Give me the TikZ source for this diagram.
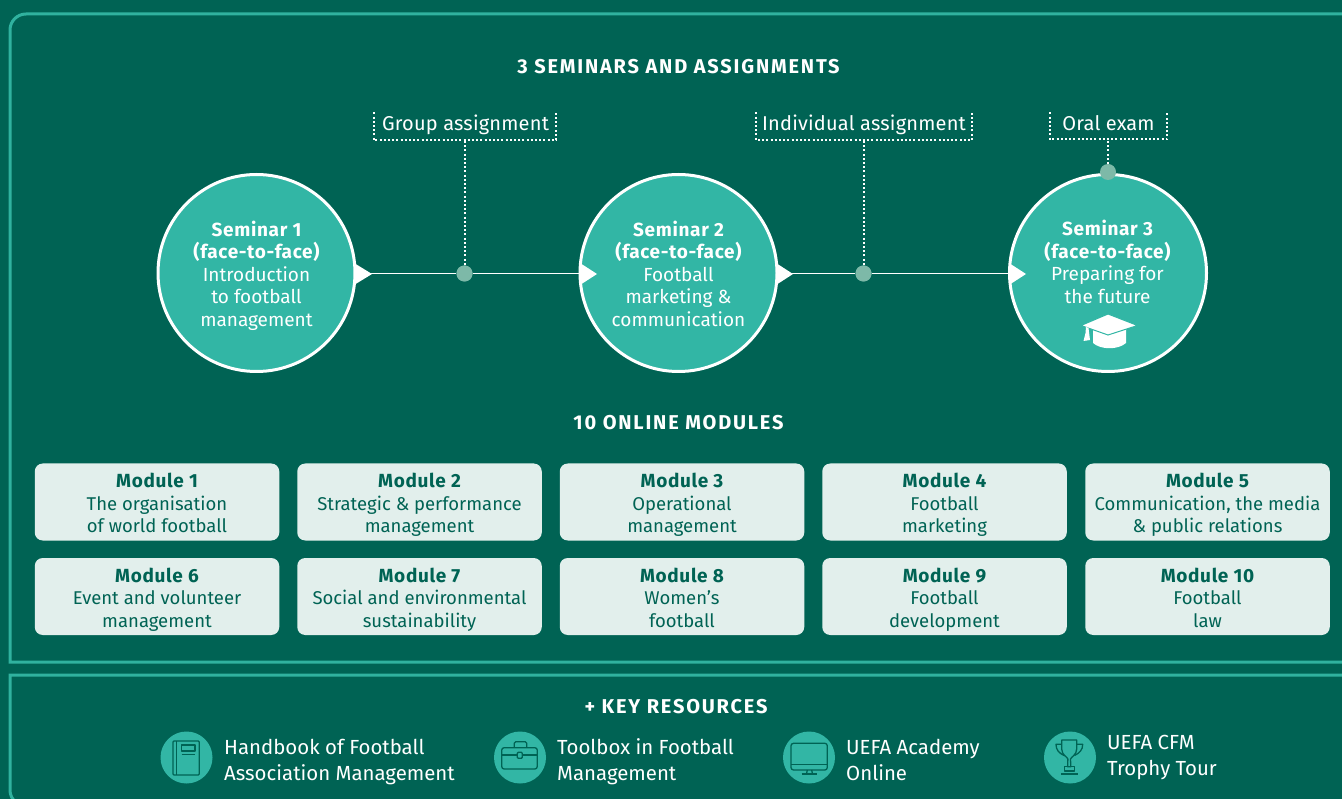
\documentclass[tikz,border=0pt]{standalone}
\usepackage{fontspec}
\setmainfont{Fira Sans}
\usetikzlibrary{calc}
\definecolor{bgc}{HTML}{006354}
\definecolor{teal}{HTML}{32B6A5}
\definecolor{pale}{HTML}{E2EFEC}
\definecolor{dotc}{HTML}{7DB9A8}
\definecolor{edge}{HTML}{30B29F}
\newcommand{\bodyf}{\fontsize{18.5}{22.5}\selectfont}
\newcommand{\semf}{\fontsize{19}{22.5}\selectfont}
\newcommand{\boldf}{\fontsize{19}{22.5}\selectfont\bfseries\addfontfeature{LetterSpace=3.5}}
\newcommand{\headf}{\fontsize{20}{22.5}\selectfont\bfseries\addfontfeature{LetterSpace=9}}
\newcommand{\modl}[3]{{\boldf\rule{0pt}{23pt}#1}\\#2\\\strut #3}
\tikzset{
  x=1pt,y=-1pt,
  panel/.style={draw=edge,line width=3pt},
  seminar/.style={circle,draw=white,line width=3pt,fill=teal,minimum size=197pt,inner sep=0pt},
  semtext/.style={text=white,align=center,font=\semf,inner sep=0pt},
  modbox/.style={rounded corners=8pt,fill=pale,minimum width=244.5pt,minimum height=77pt,inner sep=0pt,text=bgc,align=center,font=\bodyf},
  headline/.style={text=white,font=\headf,inner sep=0pt},
  assign/.style={text=white,font=\fontsize{20}{22.5}\selectfont\addfontfeature{LetterSpace=1},inner sep=0pt},
  dotline/.style={draw=white,line width=2pt,dash pattern=on 2pt off 2.2pt},
  flow/.style={draw=white,line width=1.7pt},
  tip/.style={fill=white},
  junction/.style={circle,fill=dotc,minimum size=16pt,inner sep=0pt},
  res/.style={circle,fill=teal,minimum size=52pt,inner sep=0pt},
  restext/.style={text=white,font=\fontsize{20.4}{26}\selectfont,align=left,anchor=west,inner sep=0pt},
  icon/.style={draw=bgc,line width=1.3pt,line join=round}
}
\begin{document}
\begin{tikzpicture}
\useasboundingbox (0,0) rectangle (1342,799);
\clip (0,0) rectangle (1342,799);
\fill[bgc] (0,0) rectangle (1342,799);
% panels
\draw[panel] (1350,14) [rounded corners=16pt] -- (10,14) [sharp corners] -- (10,662) -- (1350,662);
\draw[panel] (1350,675) -- (10,675) [rounded corners=16pt] -- (10,806) -- (1350,806);
% headings
\node[headline] (h1) at (678.5,67) {3 SEMINARS AND ASSIGNMENTS};
\node[headline] (h2) at (678.5,423) {10 ONLINE MODULES};
\node[headline] (h3) at (676,707) {+ KEY RESOURCES};
% seminars
\node[seminar] (s1) at (256.5,273) {};
\node[seminar] (s2) at (678.5,273) {};
\node[seminar] (s3) at (1108,273) {};
\node[semtext] (s1t) at (256.5,277) {{\boldf\strut Seminar 1}\\[-2pt]{\boldf (face-to-face)}\\Introduction\\to football\\\strut management};
\node[semtext] (s2t) at (678.5,277) {{\boldf\strut Seminar 2}\\[-2pt]{\boldf (face-to-face)}\\Football\\marketing \&\\\strut communication};
\node[semtext] (s3t) at (1107.5,265) {{\boldf\strut Seminar 3}\\[-2pt]{\boldf (face-to-face)}\\Preparing for\\\strut the future};
% junctions
\node[junction] (j1) at (464.5,273.5) {};
\node[junction] (j2) at (863.5,273.5) {};
% connectors
\draw[flow] (s1.east |- j1) -- (j1) -- (s2.west |- j1);
\draw[flow] (s2.east |- j2) -- (j2) -- (s3.west |- j2);
\node[junction] at (j1) {};
\node[junction] at (j2) {};
\fill[tip] (354,263) -- (372,274) -- (354,285) -- cycle;
\fill[tip] (580,263) -- (597,274) -- (580,285) -- cycle;
\fill[tip] (776,263) -- (793,274) -- (776,285) -- cycle;
\fill[tip] (1009,263) -- (1026,274) -- (1009,285) -- cycle;
% assignment labels
\draw[dotline] (373.5,112.5) -- (373.5,140) -- (556,140) -- (556,112.5);
\draw[dotline] (756,112.5) -- (756,140) -- (972,140) -- (972,112.5);
\draw[dotline] (1050,112.5) -- (1050,139.5) -- (1167,139.5) -- (1167,112.5);
\node[assign] (l1) at (465.5,126.5) {\strut Group assignment};
\node[assign] (l2) at (864,126.5) {\strut Individual assignment};
\node[assign] (l3) at (1108.5,126.5) {\strut Oral exam};
\coordinate (b1) at (464.5,141);
\coordinate (b2) at (863.5,141);
\coordinate (b3) at (1108,141);
\node[junction] (j3) at (1108,172) {};
\draw[dotline] (b1) -- (j1.north);
\draw[dotline] (b2) -- (j2.north);
\draw[dotline] (b3) -- (j3.north);
% mortarboard
\fill[white] (1093,326) -- (1093,343) .. controls (1101,350) and (1118,350) .. (1126,343) -- (1126,326) -- cycle;
\fill[white,draw=teal,line width=1pt] (1108,314) -- (1137.5,325.5) -- (1108,335) -- (1081,325.5) -- cycle;
\fill[white] (1086,327) -- (1088.5,328) -- (1090,340) -- (1083.5,341) -- (1085.5,333) -- cycle;
% modules
\node[modbox] (m1) at (157,502) {\modl{Module 1}{The organisation}{of world football}};
\node[modbox] (m2) at (419.5,502) {\modl{Module 2}{Strategic \& performance}{management}};
\node[modbox] (m3) at (682,502) {\modl{Module 3}{Operational}{management}};
\node[modbox] (m4) at (944.5,502) {\modl{Module 4}{Football}{marketing}};
\node[modbox] (m5) at (1207.5,502) {\modl{Module 5}{Communication, the media}{\& public relations}};
\node[modbox] (m6) at (157,596.5) {\modl{Module 6}{Event and volunteer}{management}};
\node[modbox] (m7) at (419.5,596.5) {\modl{Module 7}{Social and environmental}{sustainability}};
\node[modbox] (m8) at (682,596.5) {\modl{Module 8}{Women’s}{football}};
\node[modbox] (m9) at (944.5,596.5) {\modl{Module 9}{Football}{development}};
\node[modbox] (m10) at (1207.5,596.5) {\modl{Module 10}{Football}{law}};
% resources
\node[res] (r1) at (186.5,757.5) {};
\node[res] (r2) at (520,757.5) {};
\node[res] (r3) at (809,757.5) {};
\node[res] (r4) at (1070,757.5) {};
\node[restext] (t1) at (224,762) {\strut Handbook of Football\\\strut Association Management};
\node[restext] (t2) at (557,762) {\strut Toolbox in Football\\\strut Management};
\node[restext] (t3) at (846,762) {\strut UEFA Academy\\\strut Online};
\node[restext] (t4) at (1107,757) {\strut UEFA CFM\\\strut Trophy Tour};
% book icon
\draw[icon,rounded corners=1pt] (173,741) rectangle (199.3,775);
\draw[icon] (176.5,741) -- (176.5,775);
\draw[icon] (181.7,745) rectangle (195,751);
\draw[icon] (181.7,754.3) -- (195,754.3);
% toolbox icon
\draw[icon,rounded corners=2.5pt] (501.7,747.7) rectangle (537.3,769);
\draw[icon] (501.7,755) -- (517.3,755);
\draw[icon] (522.3,755) -- (537.3,755);
\draw[icon,rounded corners=1pt] (517.3,752.3) rectangle (522.3,758.3);
\draw[icon,rounded corners=1.5pt] (514.3,747.7) -- (514.3,741.7) -- (526.7,741.7) -- (526.7,747.7);
% monitor icon
\draw[icon,rounded corners=2.5pt] (791,743.3) rectangle (827.3,770);
\draw[icon] (791,764.3) -- (827.3,764.3);
\draw[icon] (807.3,770) -- (806.5,774);
\draw[icon] (811.7,770) -- (812.5,774);
\draw[icon] (801.7,774) -- (816.7,774);
% trophy icon
\draw[icon] (1061.7,740) -- (1076.7,740) -- (1076.7,749) .. controls (1076.7,755) and (1071,757) .. (1070.5,759) -- (1070.8,766.7) -- (1067.6,766.7) -- (1067.9,759) .. controls (1067.4,757) and (1061.7,755) .. (1061.7,749) -- cycle;
\draw[icon] (1061.7,744.3) -- (1056,744.3) .. controls (1056,750) and (1059,753) .. (1064,755.5);
\draw[icon] (1076.7,744.3) -- (1082.7,744.3) .. controls (1082.7,750) and (1079.5,753) .. (1074.5,755.5);
\draw[icon] (1064.3,766.7) rectangle (1074.3,771);
\draw[icon] (1061,774) -- (1078.3,774);
\end{tikzpicture}
\end{document}
